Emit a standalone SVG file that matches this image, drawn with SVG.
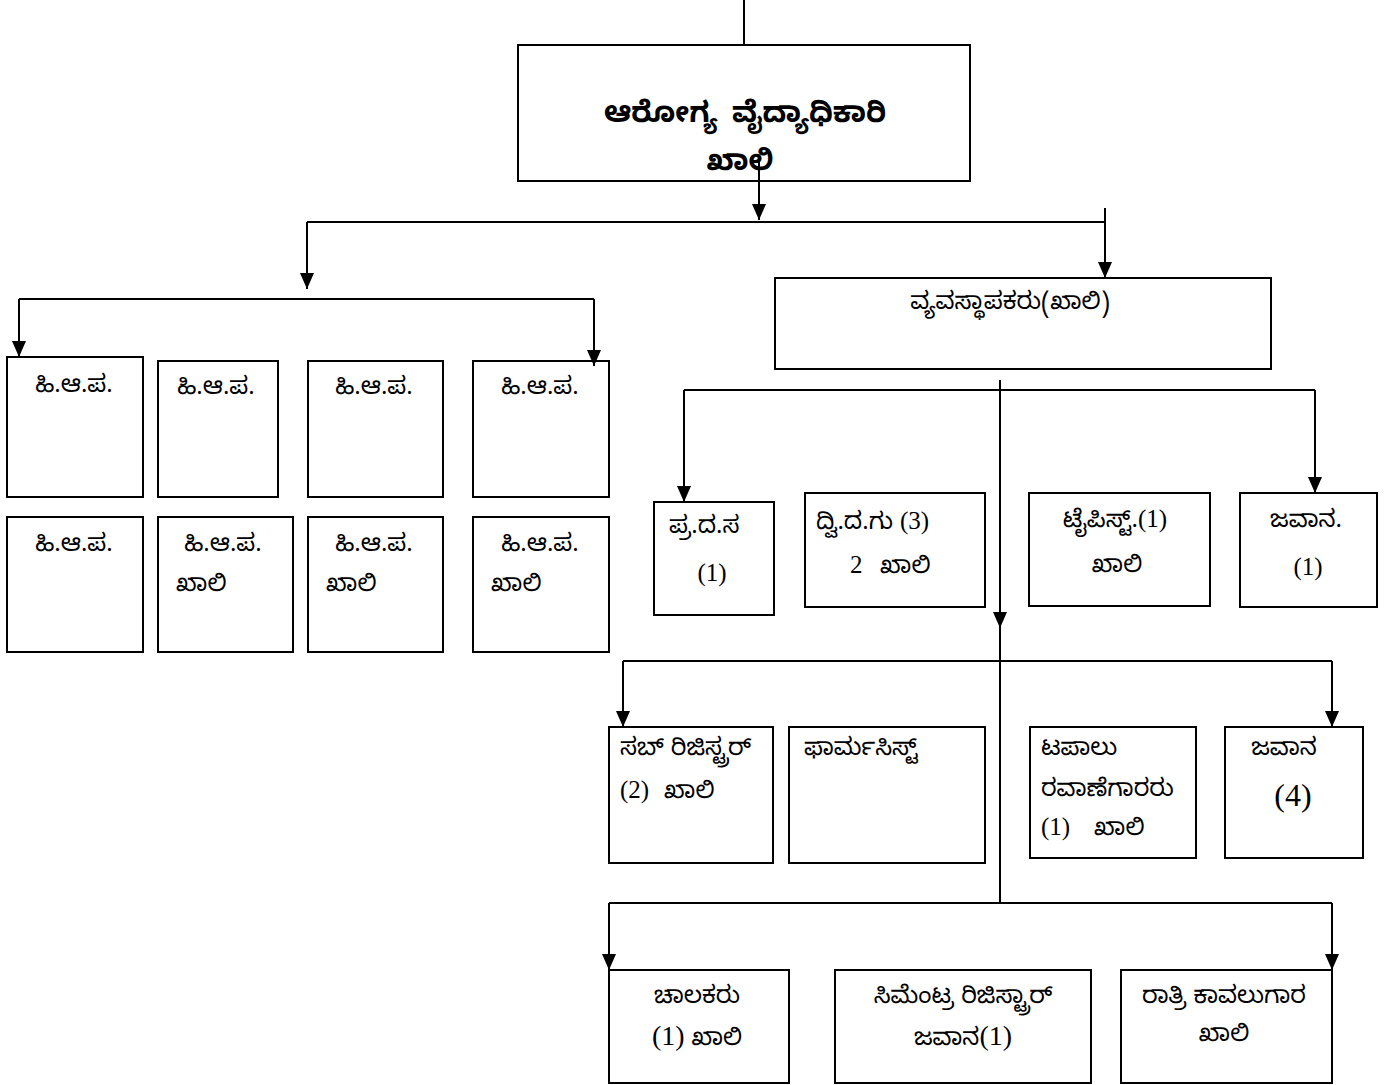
<svg xmlns="http://www.w3.org/2000/svg" width="1397" height="1085" viewBox="0 0 1397 1085">
<style>
.box{fill:none;stroke:#000;stroke-width:2}
.ln{fill:none;stroke:#000;stroke-width:2}
.kn{font-family:"Noto Sans Kannada","Tunga","Noto Sans",sans-serif;font-size:24px;fill:#000}
.tn{font-family:"Liberation Serif",serif;font-size:25px;fill:#000}
.big{font-size:29px;font-weight:bold}
.mid{text-anchor:middle}
</style>
<defs>
<marker id="ah" markerUnits="userSpaceOnUse" markerWidth="16" markerHeight="14" refX="16" refY="7" orient="auto">
<path d="M0,0 L16,7 L0,14 z" fill="#000"/>
</marker>
</defs>
<g id="connectors">
<path class="ln" d="M744,0 V45"/>
<path class="ln" d="M759,157 V220" marker-end="url(#ah)"/>
<path class="ln" d="M307,222 H1105"/>
<path class="ln" d="M307,222 V289" marker-end="url(#ah)"/>
<path class="ln" d="M1105,208 V278" marker-end="url(#ah)"/>
<path class="ln" d="M19,299 H594"/>
<path class="ln" d="M19,299 V357" marker-end="url(#ah)"/>
<path class="ln" d="M594,299 V366" marker-end="url(#ah)"/>
<path class="ln" d="M1000,380 V628" marker-end="url(#ah)"/>
<path class="ln" d="M1000,620 V903"/>
<path class="ln" d="M684,390 H1315"/>
<path class="ln" d="M684,390 V502" marker-end="url(#ah)"/>
<path class="ln" d="M1315,390 V493" marker-end="url(#ah)"/>
<path class="ln" d="M623,661 H1332"/>
<path class="ln" d="M623,661 V727" marker-end="url(#ah)"/>
<path class="ln" d="M1332,661 V727" marker-end="url(#ah)"/>
<path class="ln" d="M609,903 H1332"/>
<path class="ln" d="M609,903 V970" marker-end="url(#ah)"/>
<path class="ln" d="M1332,903 V970" marker-end="url(#ah)"/>
</g>
<g id="n-top">
<rect class="box" x="518" y="45" width="452" height="136"/>
<text class="kn big" x="604" y="122">ಆರೋಗ್ಯ <tspan x="732">ವೈದ್ಯಾಧಿಕಾರಿ</tspan></text>
<text class="kn big mid" x="740" y="170">ಖಾಲಿ</text>
</g>
<g id="n-hap1"><rect class="box" x="7" y="357" width="136" height="140"/><text class="kn mid" x="74" y="392">ಹಿ.ಆ.ಪ.</text></g>
<g id="n-hap2"><rect class="box" x="158" y="361" width="120" height="136"/><text class="kn mid" x="216" y="394">ಹಿ.ಆ.ಪ.</text></g>
<g id="n-hap3"><rect class="box" x="308" y="361" width="135" height="136"/><text class="kn mid" x="374" y="394">ಹಿ.ಆ.ಪ.</text></g>
<g id="n-hap4"><rect class="box" x="473" y="361" width="136" height="136"/><text class="kn mid" x="540" y="394">ಹಿ.ಆ.ಪ.</text></g>
<g id="n-hap5"><rect class="box" x="7" y="517" width="136" height="135"/><text class="kn mid" x="74" y="551">ಹಿ.ಆ.ಪ.</text></g>
<g id="n-hap6"><rect class="box" x="158" y="517" width="135" height="135"/><text class="kn mid" x="223" y="551">ಹಿ.ಆ.ಪ.</text><text class="kn" x="176" y="591">ಖಾಲಿ</text></g>
<g id="n-hap7"><rect class="box" x="308" y="517" width="135" height="135"/><text class="kn mid" x="374" y="551">ಹಿ.ಆ.ಪ.</text><text class="kn" x="326" y="591">ಖಾಲಿ</text></g>
<g id="n-hap8"><rect class="box" x="473" y="517" width="136" height="135"/><text class="kn mid" x="540" y="551">ಹಿ.ಆ.ಪ.</text><text class="kn" x="491" y="591">ಖಾಲಿ</text></g>
<g id="n-manager"><rect class="box" x="775" y="278" width="496" height="91"/><text class="kn mid" x="1010" y="309">ವ್ಯವಸ್ಥಾಪಕರು(ಖಾಲಿ)</text></g>
<g id="n-prds"><rect class="box" x="654" y="502" width="120" height="113"/><text class="kn" x="669" y="533">ಪ್ರ.ದ.ಸ</text><text class="tn mid" x="712" y="581">(1)</text></g>
<g id="n-dvdg"><rect class="box" x="805" y="493" width="180" height="114"/><text class="kn" x="816" y="529">ದ್ವಿ.ದ.ಗು <tspan class="tn" x="900">(3)</tspan></text><text class="kn" x="850" y="573"><tspan class="tn">2</tspan><tspan x="880">ಖಾಲಿ</tspan></text></g>
<g id="n-typist"><rect class="box" x="1029" y="493" width="181" height="113"/><text class="kn mid" x="1115" y="527">ಟೈಪಿಸ್ಟ್.<tspan class="tn">(1)</tspan></text><text class="kn mid" x="1117" y="572">ಖಾಲಿ</text></g>
<g id="n-javana1"><rect class="box" x="1240" y="493" width="137" height="114"/><text class="kn mid" x="1306" y="527">ಜವಾನ.</text><text class="tn mid" x="1308" y="575">(1)</text></g>
<g id="n-subreg"><rect class="box" x="609" y="727" width="164" height="136"/><text class="kn" x="620" y="755">ಸಬ್ ರಿಜಿಸ್ಟ್ರರ್</text><text class="kn" x="620" y="798"><tspan class="tn">(2)</tspan><tspan x="664">ಖಾಲಿ</tspan></text></g>
<g id="n-pharm"><rect class="box" x="789" y="727" width="196" height="136"/><text class="kn" x="804" y="755">ಫಾರ್ಮಸಿಸ್ಟ್</text></g>
<g id="n-tapalu"><rect class="box" x="1030" y="727" width="166" height="131"/><text class="kn" x="1041" y="755">ಟಪಾಲು</text><text class="kn" x="1041" y="796">ರವಾಣೆಗಾರರು</text><text class="kn" x="1041" y="835"><tspan class="tn">(1)</tspan><tspan x="1094">ಖಾಲಿ</tspan></text></g>
<g id="n-javana4"><rect class="box" x="1225" y="727" width="138" height="131"/><text class="kn mid" x="1284" y="755">ಜವಾನ</text><text class="tn mid" x="1293" y="806" style="font-size:32px">(4)</text></g>
<g id="n-chalak"><rect class="box" x="609" y="970" width="180" height="113"/><text class="kn mid" x="697" y="1045"><tspan class="tn" style="font-size:28px">(1)</tspan> ಖಾಲಿ</text><text class="kn mid" x="697" y="1003">ಚಾಲಕರು</text></g>
<g id="n-cement"><rect class="box" x="835" y="970" width="256" height="113"/><text class="kn mid" x="963" y="1003">ಸಿಮೆಂಟ್ರ ರಿಜಿಸ್ಟ್ರಾರ್</text><text class="kn mid" x="963" y="1045">ಜವಾನ<tspan class="tn" style="font-size:28px">(1)</tspan></text></g>
<g id="n-night"><rect class="box" x="1121" y="970" width="211" height="113"/><text class="kn mid" x="1224" y="1003">ರಾತ್ರಿ ಕಾವಲುಗಾರ</text><text class="kn mid" x="1224" y="1041">ಖಾಲಿ</text></g>
</svg>
